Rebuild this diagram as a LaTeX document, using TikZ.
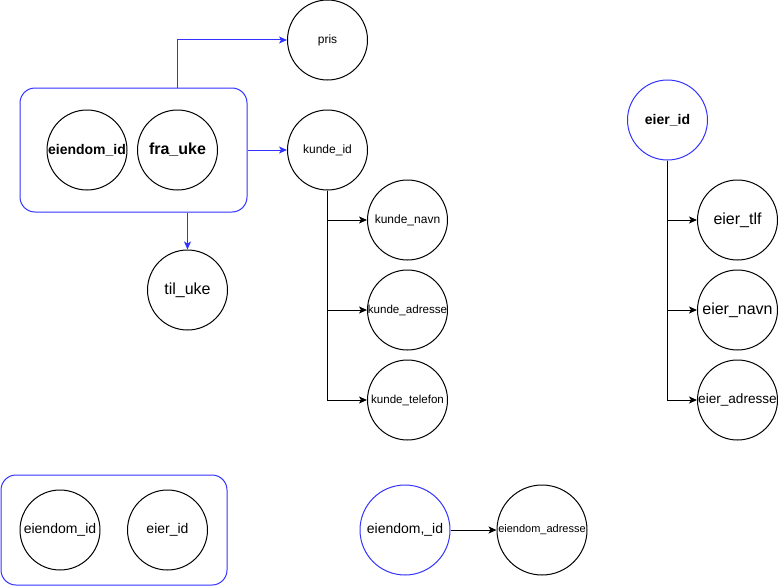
\documentclass[tikz,border=0pt]{standalone}
\usepackage{fontspec}
\setmainfont{Liberation Sans}
\usetikzlibrary{arrows.meta}
\definecolor{erblue}{RGB}{51,51,255}
\begin{document}
\begin{tikzpicture}[x=1pt,y=-1pt,
  attr/.style={draw=black,line width=1pt,circle,minimum size=80pt,inner sep=0pt},
  keyblue/.style={attr,draw=erblue},
  grp/.style={draw=erblue,line width=1pt,rectangle,rounded corners=15pt,inner sep=0pt},
  fs/.style={font=\fontsize{#1}{#1}\selectfont},
  fb/.style={font=\fontsize{#1}{#1}\selectfont\bfseries},
  conn/.style={line width=1pt,-{Stealth[length=8pt,width=7pt,inset=2pt]}},
  bconn/.style={conn,draw=erblue,-{Stealth[length=8pt,width=7pt,inset=2pt,fill=erblue]}}
]
\useasboundingbox (0,0) rectangle (778,586);
% group 1
\node[grp,minimum width=227pt,minimum height=124pt] (box1) at (133.5,150) {};
\node[attr,fb=14] (eidA) at (87,150) {eiendom\_id};
\node[attr,fb=16] (fraUke) at (177.5,150) {fra\_uke};
\node[attr,fs=12] (pris) at (327.5,40) {pris};
\node[attr,fs=12] (kundeId) at (327.5,150) {kunde\_id};
\node[attr,fs=16] (tilUke) at (187.5,290) {til\_uke};
\node[attr,fs=12] (kNavn) at (407.5,220) {kunde\_navn};
\node[attr,fs=11.6] (kAdr) at (407.5,310) {kunde\_adresse};
\node[attr,fs=11.6] (kTlf) at (407.5,400) {kunde\_telefon};
% eier
\node[keyblue,fb=14] (eierId) at (667.5,120) {eier\_id};
\node[attr,fs=16] (eTlf) at (737.5,220) {eier\_tlf};
\node[attr,fs=16] (eNavn) at (737.5,310) {eier\_navn};
\node[attr,fs=13.6] (eAdr) at (737.5,400) {eier\_adresse};
% group 2
\node[grp,minimum width=226pt,minimum height=110pt] (box2) at (114,530) {};
\node[attr,fs=14] (eidB) at (60,530) {eiendom\_id};
\node[attr,fs=14] (eierB) at (167.5,530) {eier\_id};
% eiendom
\node[keyblue,minimum size=90pt,fs=14] (eidC) at (405,530) {eiendom,\_id};
\node[attr,minimum size=90pt,fs=11] (eAdrC) at (542,530) {eiendom\_adresse};
% connectors
\draw[bconn] (fraUke |- box1.north) |- (pris.west);
\draw[bconn] (box1.east) -- (kundeId.west);
\draw[bconn] (tilUke |- box1.south) -- (tilUke.north);
\draw[conn] (kundeId.south) |- (kNavn.west);
\draw[conn] (kundeId.south) |- (kAdr.west);
\draw[conn] (kundeId.south) |- (kTlf.west);
\draw[conn] (eierId.south) |- (eTlf.west);
\draw[conn] (eierId.south) |- (eNavn.west);
\draw[conn] (eierId.south) |- (eAdr.west);
\draw[conn] (eidC.east) -- (eAdrC.west);
\end{tikzpicture}
\end{document}
